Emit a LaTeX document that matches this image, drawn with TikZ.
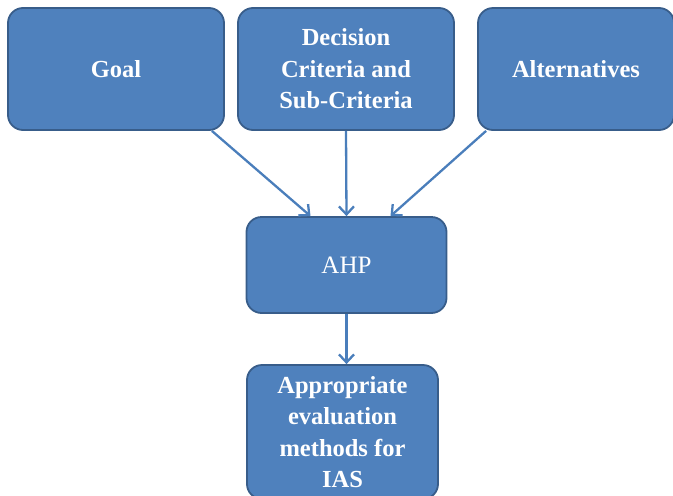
\documentclass[tikz,border=0pt]{standalone}
\usepackage{fontspec}
\setmainfont{Liberation Serif}
\usetikzlibrary{arrows.meta,positioning}
\definecolor{boxfill}{HTML}{4F81BD}
\definecolor{boxline}{HTML}{385D8A}
\definecolor{arrowline}{HTML}{4A7EBB}
\tikzset{
  stepbox/.style={draw=boxline, line width=1.8pt, fill=boxfill, rounded corners=15pt,
    text=white, align=center, inner sep=0pt,
    font=\fontsize{24.5}{31.5}\selectfont\bfseries},
  flow/.style={draw=arrowline, line width=2.3pt, -{Straight Barb[length=8pt,width=15pt]}}
}
\begin{document}
\begin{tikzpicture}[x=1pt,y=-1pt]
      \useasboundingbox (0,0) rectangle (673,496);
      \node[stepbox, minimum width=216pt, minimum height=122pt] (goal) at (116,69) {Goal}; % left
      \node[stepbox, minimum width=216pt, minimum height=122pt] (crit) at (346,69) {Decision\\Criteria and\\Sub-Criteria}; % middle
      \node[stepbox, minimum width=196pt, minimum height=122pt] (alt) at (576,69) {Alternatives}; % right
      \node[stepbox, minimum width=200pt, minimum height=96pt, font=\fontsize{25}{31}\selectfont] (ahp) at (346.5,265) {AHP};
      \node[stepbox, minimum width=191pt, minimum height=134pt] (ias) at (342.5,432) {Appropriate\\evaluation\\methods for\\IAS}; % bottom
      \draw[flow] ([xshift=-13pt]goal.south east) -- ([xshift=-36pt]ahp.north);
      \draw[flow] (crit.south) -- (ahp.north);
      \draw[flow] ([xshift=9pt]alt.south west) -- ([xshift=44pt]ahp.north);
      \draw[flow] (ahp.south) -- (ahp.south |- ias.north);
    \end{tikzpicture}
\end{document}
